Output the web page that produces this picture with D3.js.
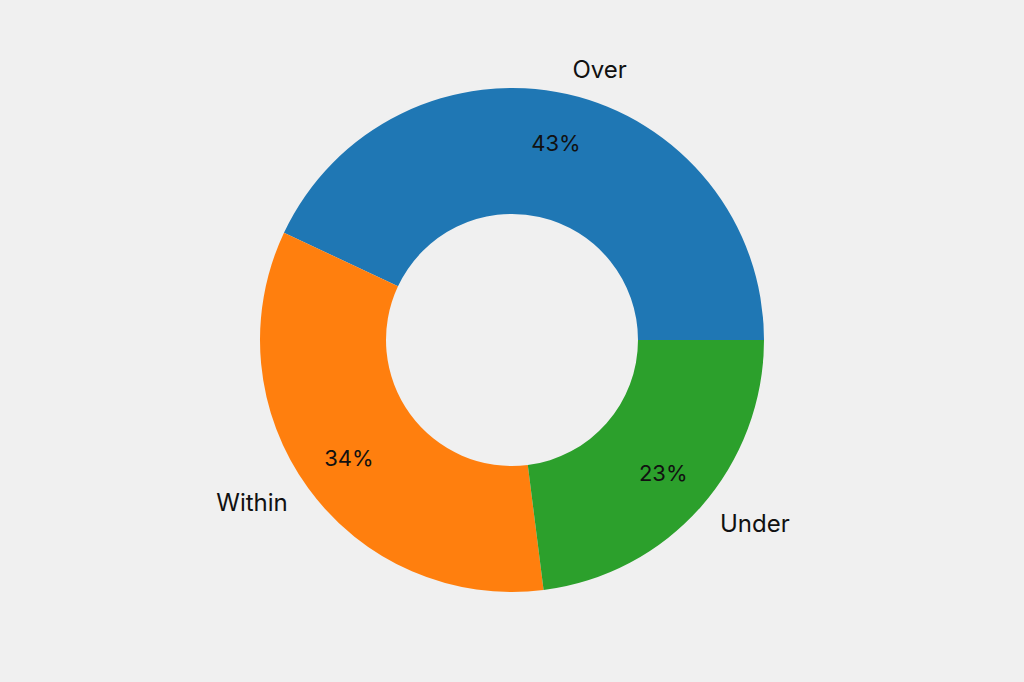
<!DOCTYPE html>
<html>
<head>
<meta charset="utf-8">
<script src="https://cdn.jsdelivr.net/npm/d3@7"></script>
<style>
  html, body { margin: 0; padding: 0; background: #f0f0f0; }
</style>
</head>
<body>
<div id="chart"></div>
<script>
// slice data
let categories = ["Over", "Within", "Under"];
let shares = [43, 34, 23];
let sliceColors = ["#1f77b4", "#ff7f0e", "#2ca02c"];

let drawDonut = function () {
    let width = 1024;
    let height = 682;
    let radius = 252;

    let svg = d3.select("#chart")
        .append("svg")
        .attr("width", width)
        .attr("height", height);

    svg.append("rect")
        .attr("width", width)
        .attr("height", height)
        .attr("fill", "#f0f0f0");

    let g = svg.append("g")
        .attr("transform", "translate(" + 512 + "," + 340 + ")");

    // start at 3 o'clock, go counter-clockwise (like matplotlib)
    let pie = d3.pie()
        .sort(null)
        .value(d => d.value)
        .startAngle(Math.PI / 2)
        .endAngle(Math.PI / 2 - 2 * Math.PI);

    let rows = categories.map((c, i) => ({ name: c, value: shares[i], color: sliceColors[i] }));
    let arcs = pie(rows);

    let arc = d3.arc().innerRadius(radius * 0.5).outerRadius(radius);

    g.selectAll(".slice")
        .data(arcs)
        .join("path")
        .attr("class", "slice")
        .attr("d", arc)
        .attr("fill", d => d.data.color);

    let total = d3.sum(shares);

    // percentage labels
    let pctArc = d3.arc().innerRadius(radius * 0.8).outerRadius(radius * 0.8);
    g.selectAll(".pct")
        .data(arcs)
        .join("text")
        .attr("class", "pct")
        .attr("x", d => pctArc.centroid(d)[0])
        .attr("y", d => pctArc.centroid(d)[1])
        .attr("dy", "0.35em")
        .attr("text-anchor", "middle")
        .attr("font-family", "Inter, sans-serif")
        .attr("font-size", 22)
        .attr("fill", "#111")
        .text(d => Math.round(d.data.value / total * 100) + "%");

    // category labels
    let labelArc = d3.arc().innerRadius(radius * 1.1).outerRadius(radius * 1.1);
    g.selectAll(".lbl")
        .data(arcs)
        .join("text")
        .attr("class", "lbl")
        .attr("x", d => labelArc.centroid(d)[0])
        .attr("y", d => labelArc.centroid(d)[1])
        .attr("dy", "0.35em")
        .attr("text-anchor", d => labelArc.centroid(d)[0] > 0 ? "start" : "end")
        .attr("font-family", "Inter, sans-serif")
        .attr("font-size", 24)
        .attr("fill", "#111")
        .text(d => d.data.name);
};

drawDonut();
</script>
</body>
</html>
